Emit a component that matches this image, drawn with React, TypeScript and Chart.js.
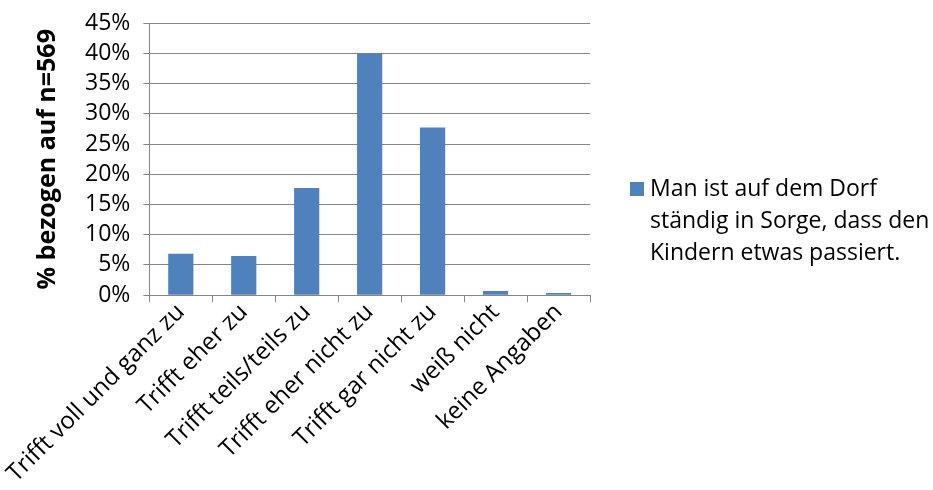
import React, { useEffect, useRef } from "react";
import { Chart, registerables } from "chart.js";

Chart.register(...registerables);

const categories = [
  "Trifft voll und ganz zu",
  "Trifft eher zu",
  "Trifft teils/teils zu",
  "Trifft eher nicht zu",
  "Trifft gar nicht zu",
  "weiß nicht",
  "keine Angaben",
];
const values = [6.85, 6.5, 17.75, 40.07, 27.77, 0.7, 0.35];
const legendLines = ["Man ist auf dem Dorf", "ständig in Sorge, dass den", "Kindern etwas passiert."];
const yTitle = "% bezogen auf n=569";
const barColor = "#4F81BD";
const gridColor = "#868686";
const FONT = "'Open Sans', sans-serif";

const legendPlugin = {
  id: "customLegend",
  afterDraw(chart: any) {
    const ctx = chart.ctx;
    const ds = chart.data.datasets[0];
    ctx.save();
    const x = 630;
    const y0 = 189;
    const lh = 32;
    ctx.fillStyle = ds.backgroundColor;
    ctx.fillRect(x, y0 - 7, 14, 14);
    ctx.fillStyle = "#000";
    ctx.font = `23px ${FONT}`;
    ctx.textBaseline = "middle";
    ctx.textAlign = "left";
    (ds.legendLines as string[]).forEach((t, i) => ctx.fillText(t, x + 20, y0 + i * lh));
    ctx.restore();
  },
};

export default function App() {
  const ref = useRef<HTMLCanvasElement>(null);
  useEffect(() => {
    const chart = new Chart(ref.current!, {
      type: "bar",
      data: {
        labels: categories,
        datasets: [
          {
            label: legendLines.join(" "),
            data: values,
            backgroundColor: barColor,
            categoryPercentage: 1,
            barPercentage: 0.4,
            legendLines,
          } as any,
        ],
      },
      options: {
        animation: false,
        responsive: true,
        maintainAspectRatio: false,
        layout: { padding: { left: 33, right: 343, top: 0, bottom: 6 } },
        plugins: { legend: { display: false }, tooltip: { enabled: false } },
        scales: {
          x: {
            grid: { offset: true, drawOnChartArea: false, tickLength: 7, color: gridColor },
            border: { color: gridColor },
            ticks: {
              autoSkip: false,
              maxRotation: 45,
              minRotation: 45,
              color: "#000",
              font: { family: FONT, size: 24 },
              padding: -4,
            },
          },
          y: {
            min: 0,
            max: 45,
            grid: { color: gridColor, tickLength: 6 },
            border: { color: gridColor },
            ticks: {
              autoSkip: false,
              stepSize: 5,
              color: "#000",
              font: { family: FONT, size: 23, lineHeight: 0.9 },
              padding: 13,
              callback: (v: any) => v + "%",
            },
            title: {
              display: true,
              text: yTitle,
              color: "#000",
              font: { family: FONT, size: 25, weight: "bold" },
              padding: { top: 0, bottom: 9 },
            },
          },
        },
      },
      plugins: [legendPlugin],
    });
    return () => chart.destroy();
  }, []);
  return (
    <div style={{ position: "fixed", left: 0, top: 0, width: 933, height: 490, background: "#fff" }}>
      <canvas ref={ref} />
    </div>
  );
}
